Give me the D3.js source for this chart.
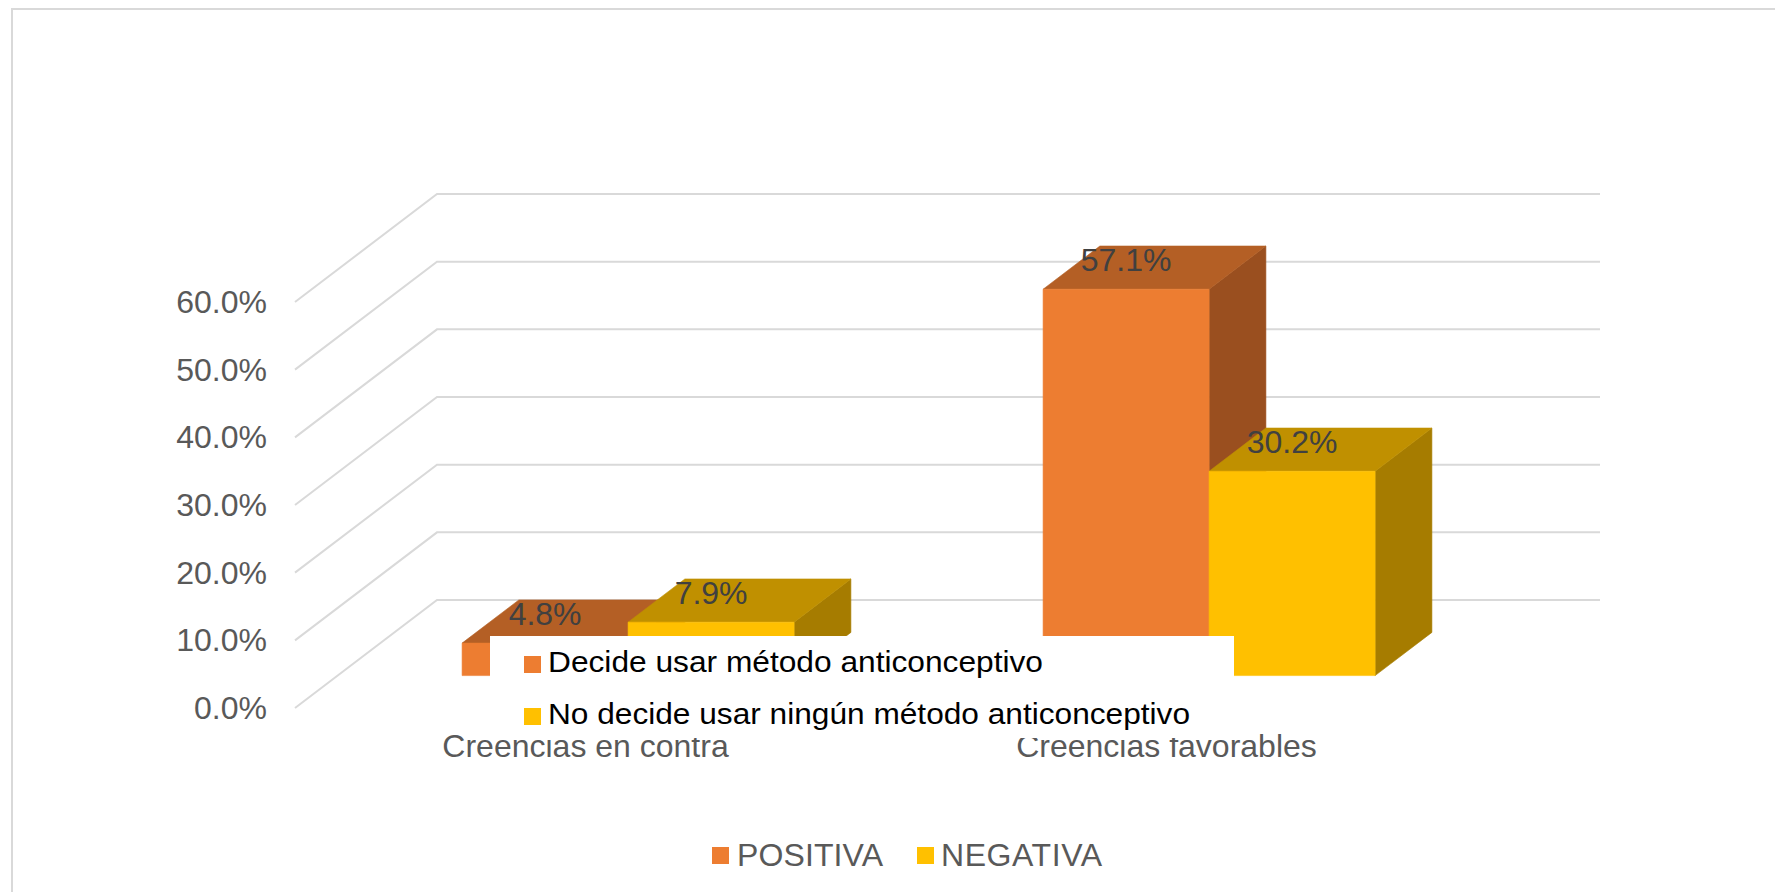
<!DOCTYPE html>
<html>
<head>
<meta charset="utf-8">
<script src="https://cdnjs.cloudflare.com/ajax/libs/d3/7.8.5/d3.min.js"></script>
<style>html,body{margin:0;padding:0;background:#fff;overflow:hidden}svg{display:block}text{font-family:"Liberation Sans",Arial,sans-serif}</style>
</head>
<body>
<svg id="c" width="1775" height="892"></svg>
<script>
const categories = ["Creencias en contra", "Creencias favorables"];
const seriesNames = ["POSITIVA", "NEGATIVA"];
const positiva = [4.8, 57.1];
const negativa = [7.9, 30.2];
const yTicks = [0, 10, 20, 30, 40, 50, 60];
const overlayLabels = ["Decide usar método anticonceptivo", "No decide usar ningún método anticonceptivo"];
const values = [positiva, negativa];
const front = ["#ED7D31", "#FFC000"], top_ = ["#B45F25", "#C09000"], side = ["#9A4F1F", "#A67C00"];

const svg = d3.select("#c");
// oblique projection: depth scale shifts points right and up
const x0 = d3.scaleBand().domain(categories).range([295, 1457]);
const y = d3.scaleLinear().domain([0, 60]).range([708, 302]);
const dx = d3.scaleLinear().domain([0, 1]).range([0, 142]);
const dz = d3.scaleLinear().domain([0, 1]).range([0, 108]);
const barW = 166, z0 = 0.3, z1 = 0.7;
const P = (px, v, z) => [px + dx(z), y(v) - dz(z)];
const poly = pts => pts.map(p => p.join(",")).join(" ");

// frame: only top and left edges fall inside the picture
svg.append("path").attr("fill", "none").attr("stroke", "#d9d9d9").attr("stroke-width", 2)
  .attr("d", "M12,892V9H1775");

const gridRight = x0.range()[1];
yTicks.forEach(t => {
  svg.append("polyline").attr("fill", "none").attr("stroke", "#d9d9d9").attr("stroke-width", 2)
    .attr("points", poly([P(x0.range()[0], t, 0), P(x0.range()[0], t, 1), P(gridRight + 1, t, 1)]));
  svg.append("text").attr("x", 267).attr("y", y(t) + 11).attr("text-anchor", "end")
    .attr("font-size", 32).attr("fill", "#595959").text(t.toFixed(1) + "%");
});

categories.forEach((c, i) => {
  const cx = x0(c) + x0.bandwidth() / 2;
  values.forEach((vals, s) => {
    const l = cx + (s - 1) * barW, r = l + barW, v = vals[i];
    svg.append("polygon").attr("fill", side[s]).attr("stroke", side[s]).attr("stroke-width", 0.6)
      .attr("points", poly([P(r, 0, z0), P(r, 0, z1), P(r, v, z1), P(r, v, z0)]));
    svg.append("polygon").attr("fill", top_[s]).attr("stroke", top_[s]).attr("stroke-width", 0.6)
      .attr("points", poly([P(l, v, z0), P(l, v, z1), P(r, v, z1), P(r, v, z0)]));
    svg.append("polygon").attr("fill", front[s]).attr("stroke", front[s]).attr("stroke-width", 0.6)
      .attr("points", poly([P(l, 0, z0), P(l, v, z0), P(r, v, z0), P(r, 0, z0)]));
  });
});

categories.forEach((c, i) => {
  const cx = x0(c) + x0.bandwidth() / 2;
  values.forEach((vals, s) => {
    const l = cx + (s - 1) * barW, v = vals[i], p = P(l + barW / 2, v, z0);
    svg.append("text").attr("x", p[0]).attr("y", p[1] - 18).attr("text-anchor", "middle")
      .attr("font-size", 32).attr("fill", "#404040").text((v).toFixed(1) + "%");
  });
  svg.append("text").attr("x", cx).attr("y", 757).attr("text-anchor", "middle")
    .attr("font-size", 32).attr("fill", "#595959").text(c);
});

// white pasted box with its own legend
svg.append("rect").attr("x", 490).attr("y", 636).attr("width", 744).attr("height", 102).attr("fill", "#fff");
[[656, 672, 495], [708, 723.5, 642]].forEach((r, i) => {
  svg.append("rect").attr("x", 524).attr("y", r[0]).attr("width", 17).attr("height", 17).attr("fill", front[i]);
  svg.append("text").attr("x", 548).attr("y", r[1]).attr("font-size", 30).attr("fill", "#000")
    .attr("textLength", r[2]).attr("lengthAdjust", "spacingAndGlyphs").text(overlayLabels[i]);
});

// chart legend
[[712, 737, 146], [917, 941, 161]].forEach((r, i) => {
  svg.append("rect").attr("x", r[0]).attr("y", 847).attr("width", 17).attr("height", 17).attr("fill", front[i]);
  svg.append("text").attr("x", r[1]).attr("y", 866).attr("font-size", 32).attr("fill", "#595959")
    .attr("textLength", r[2]).text(seriesNames[i]);
});
</script>
</body>
</html>
